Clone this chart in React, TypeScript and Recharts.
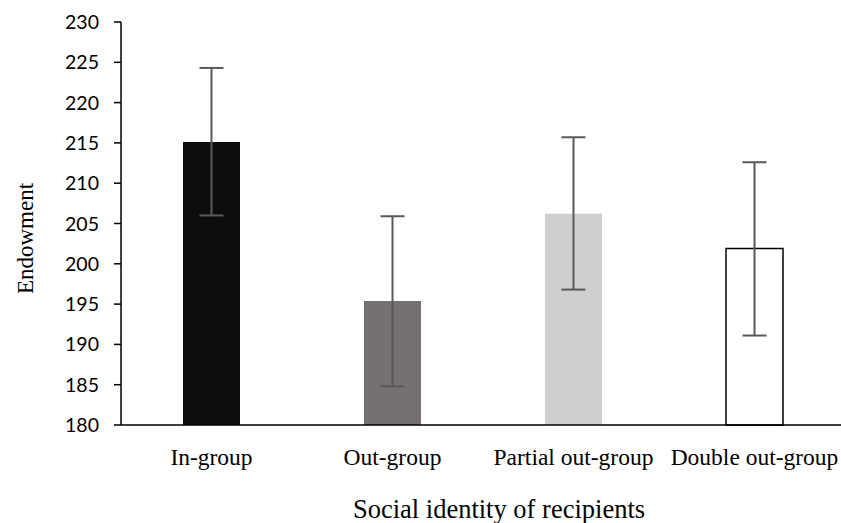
import React from "react";
import { BarChart, Bar, XAxis, YAxis, ErrorBar, Cell, Label } from "recharts";

const categories = ["In-group", "Out-group", "Partial out-group", "Double out-group"];
const means = [215.1, 195.4, 206.2, 201.9];
const lowerBounds = [206.0, 184.8, 196.8, 191.1];
const upperBounds = [224.3, 205.9, 215.7, 212.6];
const yTicks = [180, 185, 190, 195, 200, 205, 210, 215, 220, 225, 230];
const fills = ["#0d0d0d", "#767171", "#d0cece", "#ffffff"];
const strokes = ["none", "none", "none", "#000000"];

const data = categories.map((name, i) => ({
  name,
  value: means[i],
  err: [means[i] - lowerBounds[i], upperBounds[i] - means[i]],
}));

const XTick = (props: any) => {
  const { x, y, payload } = props;
  return (
    <text x={x} y={y + 40} textAnchor="middle" fill="#000" fontSize={23.5} fontFamily="Liberation Serif">
      {payload.value}
    </text>
  );
};

const YTick = (props: any) => {
  const { x, y, payload } = props;
  return (
    <text x={x} y={y + 7} textAnchor="end" fill="#000" fontSize={19.5} fontFamily="Lato">
      {payload.value}
    </text>
  );
};

const XTitle = (props: any) => {
  const { viewBox } = props;
  const cx = viewBox.x + viewBox.width / 2;
  return (
    <text x={cx + 16} y={518} textAnchor="middle" fill="#000" fontSize={26.5} fontFamily="Liberation Serif">
      Social identity of recipients
    </text>
  );
};

const YTitle = (props: any) => {
  const { viewBox } = props;
  const cy = viewBox.y + viewBox.height / 2 + 15;
  return (
    <text
      transform={`translate(33,${cy}) rotate(-90)`}
      textAnchor="middle"
      fill="#000"
      fontSize={23}
      fontFamily="Liberation Serif"
    >
      Endowment
    </text>
  );
};

export default function App() {
  return (
    <div style={{ position: "absolute", left: 0, top: 0, width: 841, height: 523, overflow: "hidden", background: "#fff" }}>
      <BarChart width={850} height={523} data={data} margin={{ top: 22, right: 5, bottom: 0, left: 0 }}>
        <XAxis
          dataKey="name"
          height={98}
          tickLine={false}
          tickSize={0}
          tickMargin={0}
          axisLine={{ stroke: "#000", strokeWidth: 1.5 }}
          tick={<XTick />}
          interval={0}
        >
          <Label content={<XTitle />} />
        </XAxis>
        <YAxis
          width={121}
          domain={[180, 230]}
          ticks={yTicks}
          interval={0}
          tickSize={7}
          tickMargin={15}
          tickLine={{ stroke: "#000", strokeWidth: 1.5 }}
          axisLine={{ stroke: "#000", strokeWidth: 1.5 }}
          tick={<YTick />}
        >
          <Label content={<YTitle />} />
        </YAxis>
        <Bar dataKey="value" barSize={57} isAnimationActive={false}>
          {data.map((d, i) => (
            <Cell key={d.name} fill={fills[i]} stroke={strokes[i]} strokeWidth={1.5} />
          ))}
          <ErrorBar dataKey="err" width={12} stroke="#595959" strokeWidth={2} isAnimationActive={false} />
        </Bar>
      </BarChart>
    </div>
  );
}
